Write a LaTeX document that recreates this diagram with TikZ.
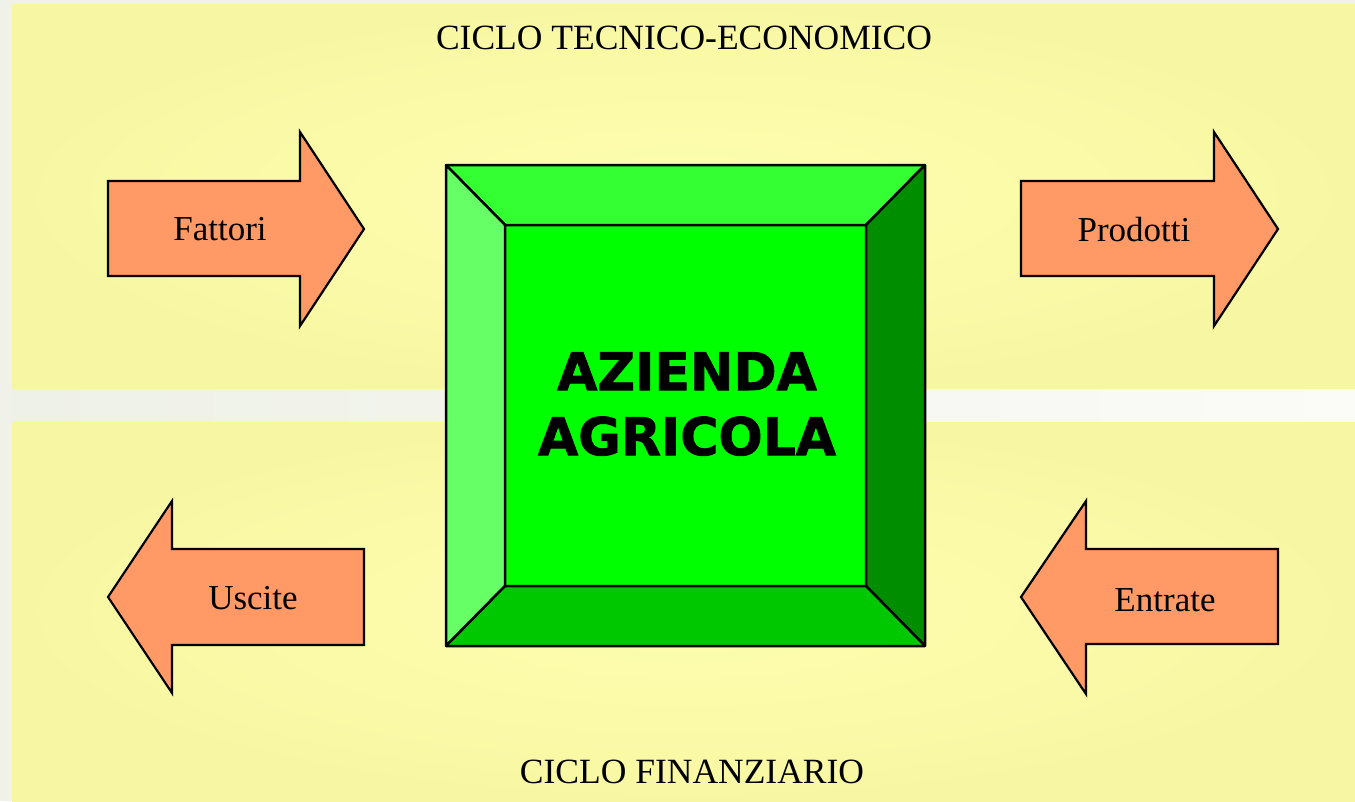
\documentclass[tikz,border=0pt]{standalone}
\usepackage{fontspec}
\setmainfont{Liberation Serif}
\newfontfamily\heavy{DejaVu Sans}[BoldFeatures={FakeBold=1.6}]
\definecolor{bggray}{HTML}{F0F2EA}
\definecolor{ylwin}{HTML}{FEFEB0}
\definecolor{ylwout}{HTML}{F7F7A3}
\definecolor{stripL}{HTML}{EEF1E7}
\definecolor{stripR}{HTML}{FBFBF8}
\definecolor{arrowfill}{HTML}{FF9966}
\definecolor{gtop}{HTML}{33FF33}
\definecolor{gleft}{HTML}{66FF66}
\definecolor{gmid}{HTML}{00FF00}
\definecolor{gright}{HTML}{008E00}
\definecolor{gbot}{HTML}{00C800}
\tikzset{
  blockarrow/.style={draw=black, line width=2.2pt, fill=arrowfill, line join=miter},
  facet/.style={draw=black, line width=2.5pt, line join=bevel},
  lbl/.style={anchor=base, inner sep=0pt, font=\fontsize{35}{42}\selectfont},
  title/.style={anchor=base, inner sep=0pt, font=\fontsize{35.5}{42}\selectfont}
}
\begin{document}
\begin{tikzpicture}[x=1pt,y=-1pt]
\useasboundingbox (0,0) rectangle (1355,801);
% background
\fill[bggray] (0,0) rectangle (1355,801);
\shade[inner color=ylwin, outer color=ylwout] (12,4) rectangle (1355,389);
\shade[inner color=ylwin, outer color=ylwout] (12,421) rectangle (1355,801);
\shade[left color=stripL, right color=stripR] (12,389) rectangle (1355,421);
% titles
\node[title] (t1) at (684,49) {CICLO TECNICO-ECONOMICO};
\node[title] (t2) at (692,783) {CICLO FINANZIARIO};
% central bevelled box
\fill[gmid] (505,225) rectangle (866,586);
\draw[facet, fill=gtop] (446,165) -- (925,165) -- (866,225) -- (505,225) -- cycle;
\draw[facet, fill=gleft] (446,165) -- (505,225) -- (505,586) -- (446,646) -- cycle;
\draw[facet, fill=gright] (925,165) -- (925,646) -- (866,586) -- (866,225) -- cycle;
\draw[facet, fill=gbot] (446,646) -- (925,646) -- (866,586) -- (505,586) -- cycle;
\draw[facet, line join=miter] (446,165) rectangle (925,646);
\node[inner sep=0pt, align=center, font=\heavy\bfseries\fontsize{52}{65}\selectfont] (az) at (687,404) {AZIENDA\\AGRICOLA};
% block arrows
\draw[blockarrow] (108,181) -- (300,181) -- (300,132) -- (364,229) -- (300,326) -- (300,276) -- (108,276) -- cycle;
\draw[blockarrow] (1021,181) -- (1214,181) -- (1214,132) -- (1278,229) -- (1214,326) -- (1214,276) -- (1021,276) -- cycle;
\draw[blockarrow] (108,597) -- (172,501) -- (172,549) -- (364,549) -- (364,645) -- (172,645) -- (172,693) -- cycle;
\draw[blockarrow] (1021,597) -- (1086,501) -- (1086,549) -- (1278,549) -- (1278,644) -- (1086,644) -- (1086,694) -- cycle;
\node[lbl] (fattori) at (220,240) {Fattori};
\node[lbl] (prodotti) at (1134,241) {Prodotti};
\node[lbl] (uscite) at (253,609) {Uscite};
\node[lbl] (entrate) at (1165,611) {Entrate};
\end{tikzpicture}
\end{document}
